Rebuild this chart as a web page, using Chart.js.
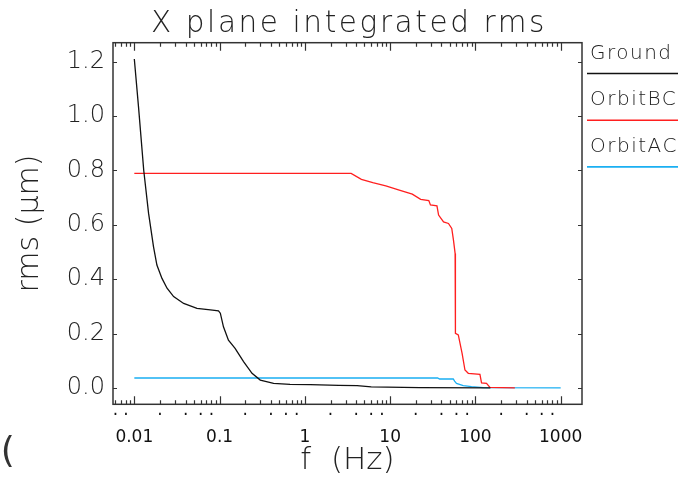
<!DOCTYPE html>
<html lang="en">
<head>
    <meta charset="UTF-8">
    <title>X plane integrated rms</title>
    <script src="https://cdn.jsdelivr.net/npm/chart.js"></script>
    <style>
        html, body {
            margin: 0;
            padding: 0;
            background: #fff;
        }
        #wrap {
            width: 680px;
            height: 481px;
        }
    </style>
</head>
<body>

<div id="wrap">
    <canvas id="rmsChart" width="680" height="481"></canvas>
</div>

<script>
    // integrated rms curves (f in Hz, rms in um)
    const groundFreq = [0.01, 0.0112, 0.0129, 0.0147, 0.0168, 0.0184, 0.0211, 0.0242, 0.0289, 0.0379,
        0.0543, 0.0779, 0.097, 0.102, 0.111, 0.127, 0.152, 0.191, 0.24, 0.30,
        0.43, 0.67, 1.16, 2.5, 4.1, 6, 22, 150];
    const groundRms = [1.21, 1.034, 0.80, 0.642, 0.519, 0.452, 0.403, 0.367, 0.336, 0.311,
        0.293, 0.287, 0.284, 0.275, 0.225, 0.176, 0.146, 0.097, 0.054, 0.029,
        0.017, 0.0135, 0.012, 0.0095, 0.0085, 0.004, 0.001, 0.0005];

    const orbitBCFreq = [0.01, 3.49, 4.6, 6.26, 8.9, 12.8, 18.2, 22.8, 28.4, 29.7,
        35.4, 37, 42.3, 48.3, 52.8, 55.3, 57.8, 58.3, 63, 69.8,
        75.4, 82.5, 113, 118, 135, 148, 290];
    const orbitBCRms = [0.789, 0.789, 0.767, 0.755, 0.743, 0.728, 0.713, 0.694, 0.689, 0.673,
        0.670, 0.636, 0.611, 0.605, 0.587, 0.544, 0.495, 0.201, 0.195, 0.127,
        0.066, 0.054, 0.050, 0.019, 0.017, 0.0025, 0.0005];

    const orbitACFreq = [0.01, 36, 38, 55, 57, 60, 72, 90, 124, 1000];
    const orbitACRms = [0.0368, 0.0368, 0.033, 0.033, 0.025, 0.017, 0.0085, 0.005, 0.001, 0.0005];

    const seriesNames = ['Ground', 'OrbitBC', 'OrbitAC'];
    const seriesColors = ['#111111', '#ff1f1f', '#1aaff2'];

    // axis ticks
    const xTickValues = [0.01, 0.1, 1, 10, 100, 1000];
    const xTickLabels = ['0.01', '0.1', '1', '10', '100', '1000'];
    const yTickValues = [0.0, 0.2, 0.4, 0.6, 0.8, 1.0, 1.2];

    const titulo = 'X plane integrated rms';

    const FONT = '"DejaVu Sans", sans-serif';
    Chart.defaults.font.family = FONT;
    Chart.defaults.font.weight = 200;
    Chart.defaults.color = '#222';

    function pares(freq, rms) {
        return freq.map((f, i) => ({x: f, y: rms[i]}));
    }

    // 1..9 per decade, inside [min, max]
    function logValues(min, max) {
        const vals = [];
        for (let k = -3; k <= 3; k++) {
            for (let m = 1; m <= 9; m++) {
                const v = m * Math.pow(10, k);
                if (v >= min && v <= max) vals.push({value: v, major: m === 1});
            }
        }
        return vals;
    }

    // frame, inward ticks, title and the legend at the right
    const framePlugin = {
        id: 'frame',
        afterDatasetsDraw(chart) {
            const {ctx, chartArea: a, scales: {x, y}} = chart;
            ctx.save();
            ctx.strokeStyle = '#333';
            ctx.lineWidth = 1.5;
            ctx.strokeRect(a.left, a.top, a.right - a.left, a.bottom - a.top);

            ctx.lineWidth = 1.2;
            ctx.beginPath();
            logValues(x.min, x.max).forEach(t => {
                const px = Math.round(x.getPixelForValue(t.value)) + 0.5;
                const len = t.major ? 8 : 4;
                ctx.moveTo(px, a.bottom);
                ctx.lineTo(px, a.bottom - len);
                ctx.moveTo(px, a.top);
                ctx.lineTo(px, a.top + len);
            });
            yTickValues.forEach(v => {
                const py = Math.round(y.getPixelForValue(v)) + 0.5;
                ctx.moveTo(a.left, py);
                ctx.lineTo(a.left + 4, py);
                ctx.moveTo(a.right, py);
                ctx.lineTo(a.right - 4, py);
            });
            ctx.stroke();

            // title
            ctx.fillStyle = '#222';
            ctx.letterSpacing = '2.6px';
            ctx.font = '200 29.5px ' + FONT;
            ctx.textAlign = 'center';
            ctx.textBaseline = 'alphabetic';
            ctx.fillText(titulo, (a.left + a.right) / 2 + 1.5, 31.5);

            // legend
            ctx.letterSpacing = '1.5px';
            ctx.font = '200 20px ' + FONT;
            ctx.textAlign = 'left';
            chart.data.datasets.forEach((ds, i) => {
                const lineY = 73.5 + i * 46.7;
                ctx.fillStyle = '#222';
                ctx.fillText(ds.label, 590, lineY - 15);
                ctx.strokeStyle = ds.borderColor;
                ctx.lineWidth = 1.6;
                ctx.beginPath();
                ctx.moveTo(587, lineY);
                ctx.lineTo(678, lineY);
                ctx.stroke();
            });

            // cut-off glyphs at the bottom left corner
            ctx.letterSpacing = '0px';
            ctx.fillStyle = '#333';
            ctx.font = '36px ' + FONT;
            ctx.fillText('g(', -22, 462);
            ctx.restore();
        }
    };

    const datasets = [
        pares(groundFreq, groundRms),
        pares(orbitBCFreq, orbitBCRms),
        pares(orbitACFreq, orbitACRms)
    ].map((data, i) => ({
        label: seriesNames[i],
        data: data,
        borderColor: seriesColors[i],
        borderWidth: 1.3,
        pointRadius: 0,
        tension: 0,
        fill: false
    }));

    new Chart(document.getElementById('rmsChart'), {
        type: 'line',
        data: {datasets: datasets},
        options: {
            responsive: false,
            animation: false,
            layout: {padding: {left: 0, right: 98, top: 42.7, bottom: 0}},
            plugins: {
                legend: {display: false},
                tooltip: {enabled: false},
                title: {display: false}
            },
            scales: {
                x: {
                    type: 'logarithmic',
                    min: Math.pow(10, -2.25),
                    max: Math.pow(10, 3.25),
                    afterBuildTicks: s => { s.ticks = logValues(s.min, s.max); },
                    afterFit: s => { s.height = 76.7; },
                    grid: {display: false, drawTicks: false},
                    border: {display: false},
                    ticks: {
                        autoSkip: false,
                        maxRotation: 0,
                        minRotation: 0,
                        padding: 0.3,
                        font: {size: 17, weight: 'normal', lineHeight: 1.3},
                        color: '#111',
                        callback: function (value) {
                            const k = Math.floor(Math.log10(value) + 1e-9);
                            const m = Math.round(value / Math.pow(10, k));
                            if (m === 1) {
                                const idx = xTickValues.findIndex(v => Math.abs(v - value) < value * 1e-6);
                                return ['', idx >= 0 ? xTickLabels[idx] : String(value)];
                            }
                            return m % 2 === 0 ? ['·'] : [''];
                        }
                    },
                    title: {
                        display: true,
                        text: 'f  (Hz)',
                        color: '#222',
                        font: {size: 31, weight: 200, lineHeight: 1.2},
                        padding: {top: 0, bottom: 1}
                    }
                },
                y: {
                    min: -0.060,
                    max: 1.2698,
                    afterBuildTicks: s => { s.ticks = yTickValues.map(v => ({value: v})); },
                    afterFit: s => { s.width = 113; },
                    grid: {display: false, drawTicks: false},
                    border: {display: false},
                    ticks: {
                        padding: 8,
                        font: {size: 24},
                        color: '#222',
                        callback: v => v.toFixed(1)
                    },
                    title: {
                        display: true,
                        text: 'rms (μm)',
                        color: '#222',
                        font: {size: 30, weight: 200, lineHeight: 1.2},
                        padding: {top: 12, bottom: 0}
                    }
                }
            }
        },
        plugins: [framePlugin]
    });
</script>

</body>
</html>
